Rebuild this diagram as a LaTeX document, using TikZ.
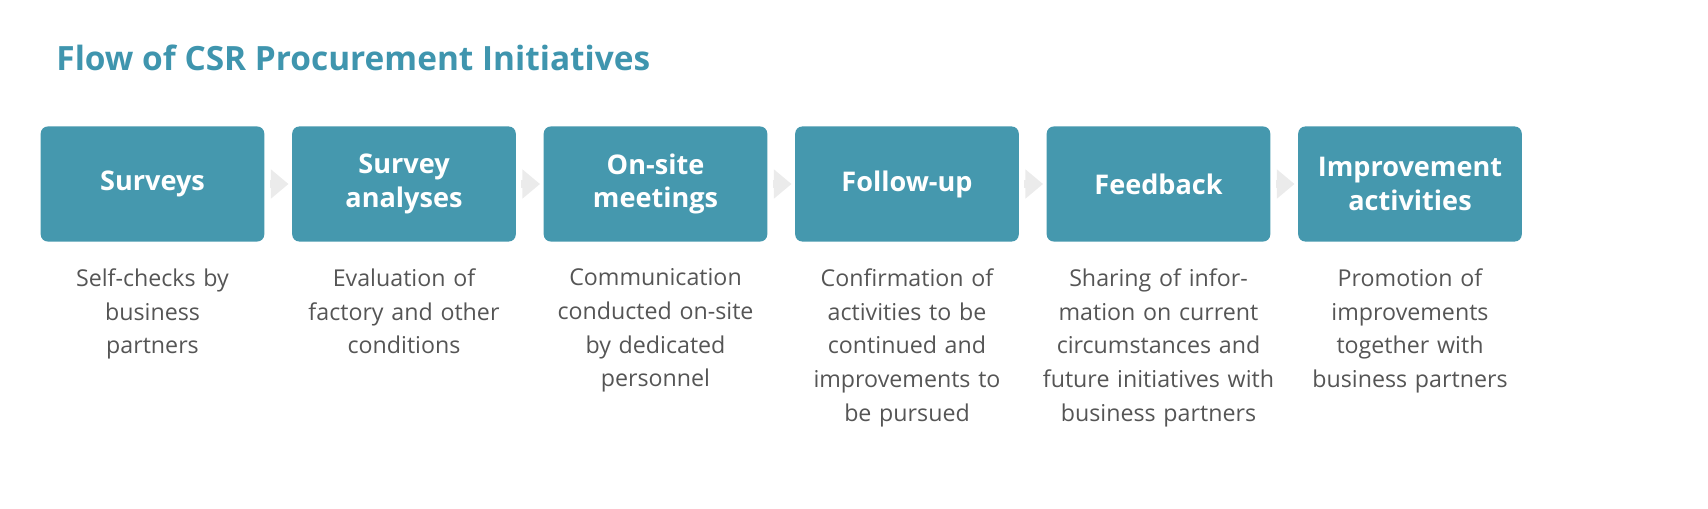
\documentclass[tikz,border=0pt]{standalone}
\usepackage{fontspec}
\setmainfont{Open Sans}
\usepackage{xcolor}
\usetikzlibrary{positioning,arrows.meta}
\definecolor{csrteal}{HTML}{4598AE}
\definecolor{csrtitle}{HTML}{3F95AE}
\definecolor{csrgray}{HTML}{555555}
\definecolor{csrarrow}{HTML}{EBEBEB}
\begin{document}
\begin{tikzpicture}[x=0.01cm,y=-0.01cm,
    stepbox/.style={fill=csrteal, rounded corners=2pt, minimum width=2.09cm, minimum height=1.15cm,
      text width=2cm, align=center, text=white, font=\fontsize{7.7}{9.6}\selectfont\bfseries},
    desc/.style={below=0.14cm of #1, text width=2.5cm, align=center, text=csrgray,
      font=\fontsize{6.6}{9.6}\selectfont},
    flow/.style={draw=csrarrow, line width=2pt, -{Triangle[length=5pt,width=8pt]}}]
  \useasboundingbox (0,0) rectangle (1708,508);

  % title
  \node[anchor=west, text=csrtitle, font=\fontsize{9.5}{11}\selectfont\bfseries] (title) at (44,58)
    {Flow of CSR Procurement Initiatives};

  % steps
  \node[stepbox] (s1) at (152.5,184) {Surveys};
  \node[stepbox] (s2) at (404,184) {Survey\\analyses};
  \node[stepbox] (s3) at (655.5,184) {On-site\\meetings};
  \node[stepbox] (s4) at (907,184) {Follow-up};
  \node[stepbox] (s5) at (1158.5,184) {Feedback};
  \node[stepbox] (s6) at (1410,184) {Improvement\\activities};

  % arrows
  \foreach \a/\b in {s1/s2,s2/s3,s3/s4,s4/s5,s5/s6}
    \draw[flow] ([xshift=0.05cm]\a.east) -- ([xshift=-0.03cm]\b.west);

  % descriptions
  \node[desc=s1, anchor=north] (d1) {Self-checks by\\business\\partners};
  \node[desc=s2, anchor=north] (d2) {Evaluation of\\factory and other\\conditions};
  \node[desc=s3, anchor=north] (d3) {Communication\\conducted on-site\\by dedicated\\personnel};
  \node[desc=s4, anchor=north] (d4) {Confirmation of\\activities to be\\continued and\\improvements to\\be pursued};
  \node[desc=s5, anchor=north] (d5) {Sharing of infor-\\mation on current\\circumstances and\\future initiatives with\\business partners};
  \node[desc=s6, anchor=north] (d6) {Promotion of\\improvements\\together with\\business partners};
\end{tikzpicture}
\end{document}
